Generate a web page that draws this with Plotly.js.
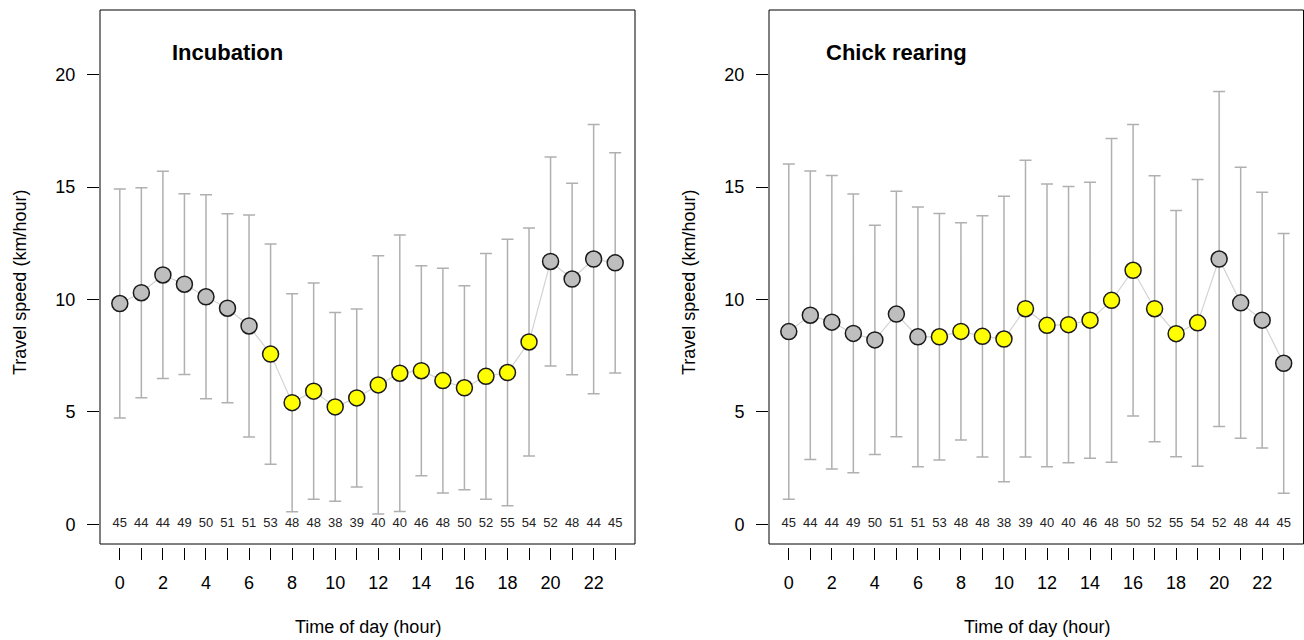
<!DOCTYPE html>
<html>
<head>
<meta charset="utf-8">
<script src="https://cdn.plot.ly/plotly-3.0.1.min.js"></script>
<style>html,body{margin:0;padding:0;background:#fff;}#chart{width:1304px;height:640px;}</style>
</head>
<body>
<div id="chart"></div>
<script>
// ---- data ----
const hours = [0,1,2,3,4,5,6,7,8,9,10,11,12,13,14,15,16,17,18,19,20,21,22,23];
const xTickLabels = ['0','','2','','4','','6','','8','','10','','12','','14','','16','','18','','20','','22',''];
const yTickVals = [0,5,10,15,20];
const incubationMean = [9.82,10.30,11.09,10.68,10.12,9.61,8.82,7.57,5.41,5.92,5.22,5.62,6.20,6.72,6.83,6.39,6.07,6.58,6.75,8.11,11.69,10.91,11.80,11.63];
const incubationSD   = [5.09,4.67,4.61,4.02,4.54,4.20,4.94,4.90,4.85,4.81,4.20,3.96,5.75,6.15,4.67,5.00,4.54,5.47,5.93,5.07,4.65,4.26,5.99,4.90];
const incubationN    = [45,44,44,49,50,51,51,53,48,48,38,39,40,40,46,48,50,52,55,54,52,48,44,45];
const chickMean = [8.57,9.30,8.99,8.49,8.20,9.35,8.34,8.34,8.58,8.36,8.24,9.59,8.85,8.88,9.08,9.96,11.30,9.59,8.48,8.96,11.80,9.85,9.08,7.16];
const chickSD   = [7.46,6.42,6.53,6.20,5.10,5.46,5.78,5.48,4.83,5.37,6.35,6.60,6.29,6.15,6.14,7.20,6.48,5.92,5.48,6.38,7.45,6.03,5.69,5.78];
const chickN    = [45,44,44,49,50,51,51,53,48,48,38,39,40,40,46,48,50,52,55,54,52,48,44,45];
const dayHours = [7,8,9,10,11,12,13,14,15,16,17,18,19];
const panelTitles = ['Incubation','Chick rearing'];
const xTitle = 'Time of day (hour)';
const yTitle = 'Travel speed (km/hour)';

// ---- style ----
const FONT = 'Liberation Sans, Arial, Helvetica, sans-serif';
const W = 1304, H = 640;
const pointColors = hours.map(h => dayHours.includes(h) ? '#ffff00' : '#bebebe');
const zeros = hours.map(() => 0);

function panelTraces(mean, sd, n, xa, ya) {
  return [
    {x: hours, y: mean, xaxis: xa, yaxis: ya, mode: 'lines', type: 'scatter',
     line: {color: '#d3d3d3', width: 1.2}, hoverinfo: 'skip', showlegend: false},
    {x: hours, y: mean, xaxis: xa, yaxis: ya, mode: 'markers', type: 'scatter',
     marker: {size: 1, color: 'rgba(0,0,0,0)'},
     error_y: {type: 'data', array: sd, visible: true, color: '#b0b0b0', thickness: 1.5, width: 6},
     hoverinfo: 'skip', showlegend: false},
    {x: hours, y: mean, xaxis: xa, yaxis: ya, mode: 'markers', type: 'scatter',
     marker: {size: 16, color: pointColors, line: {color: '#1a1a1a', width: 1.5}},
     showlegend: false},
    {x: hours, y: zeros, xaxis: xa, yaxis: ya, mode: 'text', type: 'scatter',
     text: n.map(String), textposition: 'middle center',
     textfont: {family: FONT, size: 13, color: '#222'}, hoverinfo: 'skip', showlegend: false}
  ];
}

const data = [].concat(
  panelTraces(incubationMean, incubationSD, incubationN, 'x', 'y'),
  panelTraces(chickMean, chickSD, chickN, 'x2', 'y2')
);

const xRange = [-0.92, 23.92];
const yRange = [-0.88, 22.88];
const yDom = [1 - 544/H, 1 - 10/H];
const x1Dom = [100/W, 635/W];
const x2Dom = [769/W, 1303.5/W];
const xPos = 1 - 546.5/H;

function xaxisDef(dom, yanchor) {
  return {domain: dom, range: xRange, anchor: 'free', position: xPos, overlaying: undefined,
    tickmode: 'array', tickvals: hours, ticktext: xTickLabels,
    ticks: 'outside', ticklen: 12, tickwidth: 1, tickcolor: '#000',
    tickfont: {family: FONT, size: 18, color: '#000'}, ticklabelstandoff: 8,
    showgrid: false, zeroline: false, showline: false, fixedrange: true};
}
function yaxisDef(xanchor) {
  return {domain: yDom, range: yRange, anchor: xanchor,
    tickmode: 'array', tickvals: yTickVals, ticktext: yTickVals.map(String),
    ticks: 'outside', ticklen: 12, tickwidth: 1, tickcolor: '#000',
    tickfont: {family: FONT, size: 18, color: '#000'}, ticklabelstandoff: 8,
    showgrid: false, zeroline: false, showline: false, fixedrange: true};
}

const xa1 = xaxisDef(x1Dom); delete xa1.overlaying;
const xa2 = xaxisDef(x2Dom); delete xa2.overlaying;

const layout = {
  width: W, height: H,
  margin: {l: 0, r: 0, t: 0, b: 0, pad: 0},
  paper_bgcolor: '#fff', plot_bgcolor: '#fff',
  showlegend: false,
  xaxis: xa1, yaxis: yaxisDef('x'),
  xaxis2: xa2, yaxis2: yaxisDef('x2'),
  shapes: [
    {type: 'rect', xref: 'x domain', yref: 'y domain', x0: 0, x1: 1, y0: 0, y1: 1, line: {color: '#000', width: 1}, layer: 'above'},
    {type: 'rect', xref: 'x2 domain', yref: 'y2 domain', x0: 0, x1: 1, y0: 0, y1: 1, line: {color: '#000', width: 1}, layer: 'above'}
  ],
  annotations: [
    {xref: 'x', yref: 'y', x: 5, y: 21, text: '<b>' + panelTitles[0] + '</b>', showarrow: false,
     font: {family: FONT, size: 22, color: '#000'}, xanchor: 'center', yanchor: 'middle'},
    {xref: 'x2', yref: 'y2', x: 5, y: 21, text: '<b>' + panelTitles[1] + '</b>', showarrow: false,
     font: {family: FONT, size: 22, color: '#000'}, xanchor: 'center', yanchor: 'middle'},
    {xref: 'paper', yref: 'paper', x: 367.5/W, y: 1 - 627/H, text: xTitle, showarrow: false,
     font: {family: FONT, size: 18, color: '#000'}, xanchor: 'center', yanchor: 'middle'},
    {xref: 'paper', yref: 'paper', x: 1036.5/W, y: 1 - 627/H, text: xTitle, showarrow: false,
     font: {family: FONT, size: 18, color: '#000'}, xanchor: 'center', yanchor: 'middle'},
    {xref: 'paper', yref: 'paper', x: 20/W, y: 1 - 283/H, text: yTitle, showarrow: false, textangle: -90,
     font: {family: FONT, size: 18, color: '#000'}, xanchor: 'center', yanchor: 'middle'},
    {xref: 'paper', yref: 'paper', x: 689/W, y: 1 - 283/H, text: yTitle, showarrow: false, textangle: -90,
     font: {family: FONT, size: 18, color: '#000'}, xanchor: 'center', yanchor: 'middle'}
  ]
};

Plotly.newPlot('chart', data, layout, {displayModeBar: false, staticPlot: true});
</script>
</body>
</html>
